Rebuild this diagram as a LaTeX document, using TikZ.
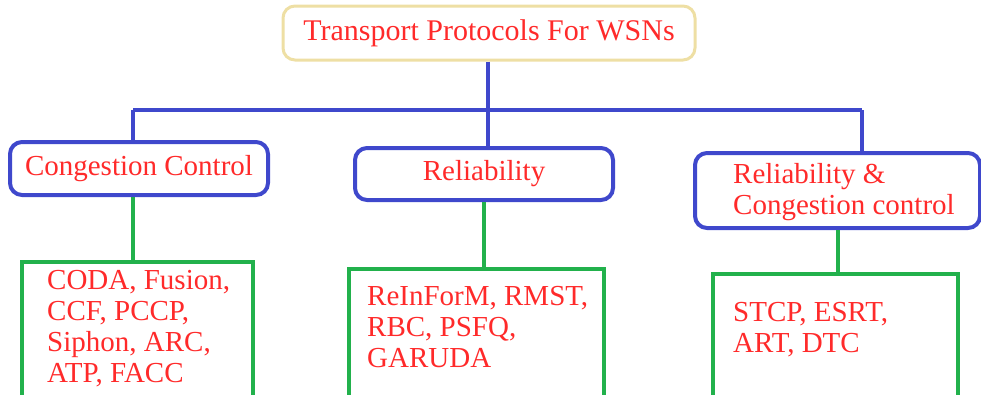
\documentclass[tikz,border=0pt]{standalone}
\usepackage{fontspec}
\setmainfont{Liberation Serif}
\definecolor{txtred}{HTML}{FF2A2A}
\definecolor{busblue}{HTML}{3F48CC}
\definecolor{leafgreen}{HTML}{22B14C}
\definecolor{titlebeige}{HTML}{EEDFA4}
\tikzset{
  label font/.style={font=\fontsize{29}{31}\selectfont, text=txtred},
  rootbox/.style={draw=titlebeige, line width=3pt, rounded corners=12pt, fill=white,
    font=\fontsize{30}{32}\selectfont, text=txtred},
  catbox/.style={draw=busblue, line width=4pt, rounded corners=12pt, fill=white, label font},
  leafbox/.style={draw=leafgreen, line width=4pt},
  leaftext/.style={label font, align=left, anchor=north west, inner sep=0pt},
  busline/.style={draw=busblue, line width=4pt},
  leafline/.style={draw=leafgreen, line width=4pt},
}
\begin{document}
\begin{tikzpicture}[x=1pt,y=-1pt]
  \useasboundingbox (0,0) rectangle (981,394);
  \clip (0,0) rectangle (981,394);

  % root
  \node[rootbox, minimum width=412pt, minimum height=54pt] (root) at (489,33) {Transport Protocols For WSNs};

  % bus
  \coordinate (busL) at (133,110);
  \coordinate (busM) at (488,110);
  \coordinate (busR) at (862,110);

  % category boxes
  \node[catbox, minimum width=258pt, minimum height=53pt] (cc) at (139,168.5) {Congestion Control};
  \node[catbox, minimum width=258pt, minimum height=52pt] (rel) at (484,174) {Reliability};
  \node[catbox, minimum width=285pt, minimum height=75pt] (rc) at (837.5,190.5) {};
  \node[leaftext] (rctext) at (733,163) {Reliability \&\\Congestion control};

  % leaf boxes
  \node[leafbox, minimum width=231pt, minimum height=160pt, anchor=north] (g1) at (137.5,260) {};
  \node[leafbox, minimum width=255pt, minimum height=160pt, anchor=north] (g2) at (476.5,267) {};
  \node[leafbox, minimum width=245pt, minimum height=160pt, anchor=north] (g3) at (835.5,272) {};
  \node[leaftext] (g1text) at (47,270.5) {CODA, Fusion,\\CCF, PCCP,\\Siphon, ARC,\\ATP, FACC};
  \node[leaftext] (g2text) at (367,286.5) {ReInForM, RMST,\\RBC, PSFQ,\\GARUDA};
  \node[leaftext] (g3text) at (733,302.5) {STCP, ESRT,\\ART, DTC};

  % connectors
  \draw[busline] (root.south -| busM) -- (busM);
  \draw[busline] (busL) -- (busR);
  \draw[busline] (busL) -- (busL |- cc.north);
  \draw[busline] (busM) -- (busM |- rel.north);
  \draw[busline] (busR) -- (busR |- rc.north);
  \draw[leafline] (cc.south -| busL) -- (g1.north -| busL);
  \draw[leafline] (rel.south) -- (rel.south |- g2.north);
  \draw[leafline] (rc.south) -- (rc.south |- g3.north);
\end{tikzpicture}
\end{document}
